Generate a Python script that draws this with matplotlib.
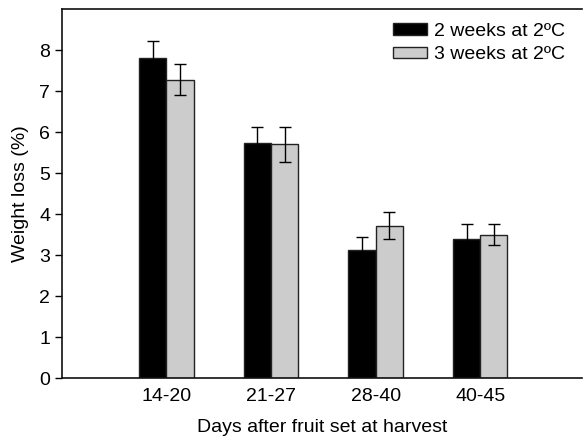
import matplotlib
matplotlib.use("Agg")
import matplotlib.pyplot as plt
import numpy as np

plt.rcParams['font.family'] = ['Liberation Sans', 'DejaVu Sans']

categories = ["14-20", "21-27", "28-40", "40-45"]
two_weeks = [7.82, 5.73, 3.13, 3.40]
two_weeks_err = [0.40, 0.40, 0.30, 0.35]
three_weeks = [7.28, 5.70, 3.72, 3.50]
three_weeks_err = [0.38, 0.42, 0.32, 0.25]

fig = plt.figure(figsize=(5.84, 4.36), dpi=100)
ax = fig.add_axes([0.106, 0.133, 0.890, 0.846])

x = np.arange(1, len(categories) + 1)
w = 0.26
ekw = dict(elinewidth=1, capthick=1, ecolor='black')
ax.bar(x - w/2, two_weeks, w, color='black', edgecolor='#222222', linewidth=1,
       yerr=two_weeks_err, capsize=4.5, error_kw=ekw, label='2 weeks at 2ºC')
ax.bar(x + w/2, three_weeks, w, color='#cccccc', edgecolor='#222222', linewidth=1,
       yerr=three_weeks_err, capsize=4.5, error_kw=ekw, label='3 weeks at 2ºC')

ax.set_xlim(0, 4.97)
ax.set_ylim(0, 9)
ax.set_yticks(range(0, 9))
ax.set_xticks(x)
ax.set_xticklabels(categories)
ax.tick_params(axis='x', length=0, labelsize=14, pad=7)
ax.tick_params(axis='y', length=5, width=1, labelsize=14)
ax.spines['right'].set_visible(False)
for s in ['left', 'bottom', 'top']:
    ax.spines[s].set_linewidth(1.2)
    ax.spines[s].set_color('#111111')

ax.set_xlabel('Days after fruit set at harvest', fontsize=14, labelpad=10)
ax.set_ylabel('Weight loss (%)', fontsize=14, labelpad=7)

leg = ax.legend(loc='upper right', bbox_to_anchor=(0.99, 0.995), frameon=False,
                fontsize=14, handlelength=1.75, handleheight=0.55,
                handletextpad=0.35, labelspacing=0.35, borderaxespad=0.2)

fig.savefig('out.png', dpi=100)
